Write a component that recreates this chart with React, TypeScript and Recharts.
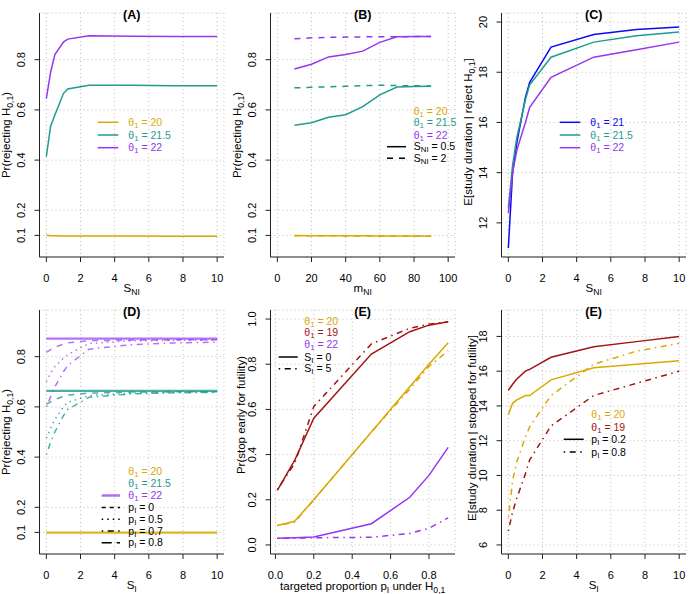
import React from 'react';
import { LineChart, Line, XAxis, YAxis, CartesianGrid } from 'recharts';

const FONT = '"Liberation Sans", Arial, Helvetica, sans-serif';
const W = 231;
const H = 297;
const AXIS = '#222';

const GOLD = '#D9A900';
const TEAL = '#1E9C8C';
const PURPLE = '#9437F0';
const BLUE = '#0A0AF5';
const RED = '#A31515';

// S_NI / S_I grid shared by (A), (C), (D), right (E)
const sValues = [0, 0.25, 0.5, 1, 1.25, 2.5, 5, 7.5, 10];

// (A) Pr(rejecting H0,1) vs S_NI
const aTheta20 = [0.101, 0.099, 0.099, 0.098, 0.098, 0.098, 0.098, 0.097, 0.097];
const aTheta215 = [0.414, 0.535, 0.58, 0.665, 0.683, 0.698, 0.698, 0.696, 0.696];
const aTheta22 = [0.645, 0.75, 0.82, 0.87, 0.882, 0.895, 0.893, 0.892, 0.892];

// (B) Pr(rejecting H0,1) vs m_NI
const mValues = [10, 20, 30, 40, 50, 60, 70, 80, 90];
const bTheta20Solid = [0.1, 0.099, 0.099, 0.099, 0.099, 0.098, 0.098, 0.098, 0.097];
const bTheta20Dashed = [0.099, 0.099, 0.099, 0.098, 0.098, 0.098, 0.098, 0.098, 0.097];
const bTheta215Solid = [0.539, 0.549, 0.571, 0.581, 0.613, 0.66, 0.691, 0.693, 0.694];
const bTheta215Dashed = [0.688, 0.69, 0.692, 0.694, 0.697, 0.698, 0.697, 0.696, 0.695];
const bTheta22Solid = [0.763, 0.782, 0.811, 0.821, 0.834, 0.869, 0.891, 0.892, 0.892];
const bTheta22Dashed = [0.883, 0.887, 0.889, 0.89, 0.891, 0.891, 0.891, 0.892, 0.892];

// (C) E[study duration | reject H0,1] vs S_NI
const cTheta21 = [11.0, 14.0, 15.2, 17.0, 17.6, 19.0, 19.5, 19.7, 19.8];
const cTheta215 = [12.6, 14.3, 15.4, 16.9, 17.5, 18.6, 19.2, 19.45, 19.6];
const cTheta22 = [12.4, 14.0, 14.9, 16.0, 16.6, 17.8, 18.6, 18.9, 19.2];

// (D) Pr(rejecting H0,1) vs S_I
const dTheta20 = [0.099, 0.099, 0.099, 0.099, 0.099, 0.099, 0.099, 0.099, 0.099];
const dTheta215Flat = [0.664, 0.664, 0.664, 0.664, 0.664, 0.664, 0.664, 0.664, 0.664];
const dTheta215Dash = [0.61, 0.62, 0.63, 0.642, 0.647, 0.655, 0.659, 0.66, 0.66];
const dTheta215Dot = [0.475, 0.515, 0.55, 0.6, 0.618, 0.645, 0.655, 0.658, 0.66];
const dTheta215DotDash = [0.41, 0.46, 0.5, 0.565, 0.59, 0.638, 0.652, 0.656, 0.658];
const dTheta22Flat = [0.872, 0.872, 0.872, 0.872, 0.872, 0.872, 0.872, 0.872, 0.872];
const dTheta22Dash = [0.817, 0.828, 0.838, 0.85, 0.855, 0.864, 0.866, 0.867, 0.867];
const dTheta22Dot = [0.7, 0.735, 0.76, 0.795, 0.808, 0.853, 0.863, 0.865, 0.866];
const dTheta22DotDash = [0.6, 0.64, 0.68, 0.74, 0.765, 0.83, 0.848, 0.855, 0.858];

// (E) Pr(stop early for futility) vs p_I
const pValues = [0.01, 0.1, 0.2, 0.5, 0.7, 0.8, 0.9];
const eTheta20S0 = [0.086, 0.105, 0.2, 0.5, 0.7, 0.8, 0.895];
const eTheta20S5 = [0.086, 0.1, 0.2, 0.5, 0.69, 0.79, 0.86];
const eTheta19S0 = [0.242, 0.374, 0.561, 0.845, 0.944, 0.973, 0.988];
const eTheta19S5 = [0.245, 0.36, 0.613, 0.89, 0.959, 0.977, 0.988];
const eTheta22S0 = [0.03, 0.032, 0.035, 0.094, 0.211, 0.308, 0.432];
const eTheta22S5 = [0.03, 0.03, 0.032, 0.034, 0.051, 0.074, 0.12];

// (E, right) E[study duration | stopped for futility] vs S_I
const fTheta20P02 = [13.5, 14.15, 14.35, 14.6, 14.6, 15.5, 16.2, 16.4, 16.6];
const fTheta20P08 = [7.6, 9.7, 10.8, 12.2, 12.8, 14.6, 16.4, 17.15, 17.6];
const fTheta19P02 = [14.9, 15.25, 15.55, 16.0, 16.1, 16.8, 17.4, 17.7, 18.0];
const fTheta19P08 = [6.8, 7.9, 8.7, 10.1, 10.9, 12.85, 14.6, 15.3, 16.0];

// tick labels
const sTicks = [0, 2, 4, 6, 8, 10];
const mTicks = [0, 20, 40, 60, 80, 100];
const pTicks = [0, 0.2, 0.4, 0.6, 0.8];
const prTicks = [0.1, 0.2, 0.4, 0.6, 0.8];
const durTicksC = [12, 14, 16, 18, 20];
const stopTicks = [0, 0.2, 0.4, 0.6, 0.8, 1.0];
const durTicksF = [6, 8, 10, 12, 14, 16, 18];

const DASH = '6 6';
const DOT = '1.5 4';
const DOTDASH = '1.5 4.5 6 4.5';
const LONGDASH = '10 5';

type Series = { key: string; color: string; dash?: string; width?: number; opacity?: number };

function table(xs: number[], cols: Record<string, number[]>) {
  return xs.map((x, i) => {
    const row: Record<string, number> = { x };
    Object.keys(cols).forEach((k) => (row[k] = cols[k][i]));
    return row;
  });
}

const xTick = (digits: number) => (p: any) => (
  <text x={p.x} y={281.5} textAnchor="middle" fontSize={11} fontFamily={FONT} fill="#000">
    {Number(p.payload.value).toFixed(digits)}
  </text>
);

const yTick = (digits: number) => (p: any) => (
  <text
    transform={`translate(25,${p.y}) rotate(-90)`}
    textAnchor="middle"
    fontSize={11}
    fontFamily={FONT}
    fill="#000"
  >
    {Number(p.payload.value).toFixed(digits)}
  </text>
);

function sub(base: string, s: string, rest = '', shift = 3) {
  return [
    <tspan key="b">{base}</tspan>,
    <tspan key="s" fontSize="0.75em" dy={shift}>{s}</tspan>,
    <tspan key="r" dy={-shift}>{rest}</tspan>,
  ];
}

// legend label: theta / p / S with a small subscript
const lab = (base: string, s: string, rest: string) => sub(base, s, rest, 2.2);

function Row(props: {
  y: number;
  tx: number;
  x0?: number;
  x1?: number;
  color: string;
  lineColor?: string;
  dash?: string;
  lw?: number;
  children: React.ReactNode;
}) {
  const { y, tx, x0, x1, color, lineColor, dash, lw, children } = props;
  return (
    <g>
      {x0 !== undefined && x1 !== undefined && (
        <line x1={x0} x2={x1} y1={y} y2={y} stroke={lineColor ?? color} strokeWidth={lw ?? 1.5} strokeDasharray={dash} />
      )}
      <text x={tx} y={y + 3.5} fontSize={10.5} fill={color}>
        {children}
      </text>
    </g>
  );
}

function Panel(props: {
  left: number;
  top: number;
  data: Record<string, number>[];
  xDomain: [number, number];
  xTicks: number[];
  xDigits: number;
  yDomain: [number, number];
  yTicks: number[];
  yDigits: number;
  series: Series[];
  children?: React.ReactNode;
}) {
  const { left, top, data, xDomain, xTicks, xDigits, yDomain, yTicks, yDigits, series, children } = props;
  return (
    <div style={{ position: 'absolute', left, top, width: W, height: H }}>
      <LineChart width={W} height={H} data={data} margin={{ top: 13, right: 7, bottom: 0, left: 0 }}>
        <CartesianGrid stroke="#bdbdbd" strokeDasharray="1 3" />
        <XAxis
          type="number"
          dataKey="x"
          domain={xDomain}
          ticks={xTicks}
          interval={0}
          height={40}
          tickSize={5}
          allowDataOverflow
          axisLine={{ stroke: AXIS }}
          tickLine={{ stroke: AXIS }}
          tick={xTick(xDigits)}
        />
        <YAxis
          type="number"
          domain={yDomain}
          ticks={yTicks}
          interval={0}
          width={39.5}
          tickSize={5}
          allowDataOverflow
          axisLine={{ stroke: AXIS }}
          tickLine={{ stroke: AXIS }}
          tick={yTick(yDigits)}
        />
        {series.map((s) => (
          <Line
            key={s.key}
            type="linear"
            dataKey={s.key}
            stroke={s.color}
            strokeWidth={s.width ?? 1.5}
            strokeDasharray={s.dash}
            strokeOpacity={s.opacity ?? 1}
            dot={false}
            activeDot={false}
            isAnimationActive={false}
          />
        ))}
      </LineChart>
      <svg
        width={W}
        height={H}
        fontFamily={FONT}
        style={{ position: 'absolute', left: 0, top: 0, pointerEvents: 'none' }}
      >
        {children}
      </svg>
    </div>
  );
}

const Title = ({ t }: { t: string }) => (
  <text x={131.7} y={18.5} textAnchor="middle" fontWeight="bold" fontSize={12.5}>
    {t}
  </text>
);

const YTitle = ({ x, y, children }: { x: number; y: number; children: React.ReactNode }) => (
  <text transform={`translate(${x},${y}) rotate(-90)`} textAnchor="middle" fontSize={11.5}>
    {children}
  </text>
);

const XTitle = ({ y = 291.5, children }: { y?: number; children: React.ReactNode }) => (
  <text x={131.7} y={y} textAnchor="middle" fontSize={11.5}>
    {children}
  </text>
);

export default function App() {
  const dataA = table(sValues, { t20: aTheta20, t215: aTheta215, t22: aTheta22 });
  const dataB = table(mValues, {
    t20s: bTheta20Solid,
    t20d: bTheta20Dashed,
    t215s: bTheta215Solid,
    t215d: bTheta215Dashed,
    t22s: bTheta22Solid,
    t22d: bTheta22Dashed,
  });
  const dataC = table(sValues, { t21: cTheta21, t215: cTheta215, t22: cTheta22 });
  const dataD = table(sValues, {
    t20: dTheta20,
    t215f: dTheta215Flat,
    t215a: dTheta215Dash,
    t215b: dTheta215Dot,
    t215c: dTheta215DotDash,
    t22f: dTheta22Flat,
    t22a: dTheta22Dash,
    t22b: dTheta22Dot,
    t22c: dTheta22DotDash,
  });
  const dataE = table(pValues, {
    t20s0: eTheta20S0,
    t20s5: eTheta20S5,
    t19s0: eTheta19S0,
    t19s5: eTheta19S5,
    t22s0: eTheta22S0,
    t22s5: eTheta22S5,
  });
  const dataF = table(sValues, {
    t20a: fTheta20P02,
    t20b: fTheta20P08,
    t19a: fTheta19P02,
    t19b: fTheta19P08,
  });

  const prDomain: [number, number] = [0.014, 0.986];
  const sDomain: [number, number] = [-0.4, 10.4];

  return (
    <div style={{ position: 'relative', width: 693, height: 594, background: '#fff', fontFamily: FONT }}>
      <style>{'body{margin:0}'}</style>

      {/* (A) */}
      <Panel
        left={0}
        top={0}
        data={dataA}
        xDomain={sDomain}
        xTicks={sTicks}
        xDigits={0}
        yDomain={prDomain}
        yTicks={prTicks}
        yDigits={1}
        series={[
          { key: 't20', color: GOLD },
          { key: 't215', color: TEAL },
          { key: 't22', color: PURPLE },
        ]}
      >
        <Title t="(A)" />
        <YTitle x={9.5} y={135}>{sub('Pr(rejecting H', '0,1', ')')}</YTitle>
        <XTitle>{sub('S', 'NI')}</XTitle>
        <Row y={122.3} tx={128.3} x0={97.7} x1={118.3} color={GOLD}>{lab('θ', '1', ' = 20')}</Row>
        <Row y={135} tx={128.3} x0={97.7} x1={118.3} color={TEAL}>{lab('θ', '1', ' = 21.5')}</Row>
        <Row y={147.7} tx={128.3} x0={97.7} x1={118.3} color={PURPLE}>{lab('θ', '1', ' = 22')}</Row>
      </Panel>

      {/* (B) */}
      <Panel
        left={231}
        top={0}
        data={dataB}
        xDomain={[-4, 104]}
        xTicks={mTicks}
        xDigits={0}
        yDomain={prDomain}
        yTicks={prTicks}
        yDigits={1}
        series={[
          { key: 't20d', color: GOLD, dash: DASH },
          { key: 't20s', color: GOLD },
          { key: 't215d', color: TEAL, dash: DASH },
          { key: 't215s', color: TEAL },
          { key: 't22d', color: PURPLE, dash: DASH },
          { key: 't22s', color: PURPLE },
        ]}
      >
        <Title t="(B)" />
        <YTitle x={9.5} y={135}>{sub('Pr(rejecting H', '0,1', ')')}</YTitle>
        <XTitle>{sub('m', 'NI')}</XTitle>
        <Row y={111} tx={182.7} color={GOLD}>{lab('θ', '1', ' = 20')}</Row>
        <Row y={122.7} tx={182.7} color={TEAL}>{lab('θ', '1', ' = 21.5')}</Row>
        <Row y={135} tx={182.7} color={PURPLE}>{lab('θ', '1', ' = 22')}</Row>
        <Row y={146.7} tx={182.7} x0={156} x1={175} color="#000">{lab('S', 'NI', ' = 0.5')}</Row>
        <Row y={158.3} tx={182.7} x0={156} x1={175} color="#000" dash={DASH}>{lab('S', 'NI', ' = 2')}</Row>
      </Panel>

      {/* (C) */}
      <Panel
        left={462}
        top={0}
        data={dataC}
        xDomain={sDomain}
        xTicks={sTicks}
        xDigits={0}
        yDomain={[10.64, 20.36]}
        yTicks={durTicksC}
        yDigits={0}
        series={[
          { key: 't21', color: BLUE },
          { key: 't215', color: TEAL },
          { key: 't22', color: PURPLE },
        ]}
      >
        <Title t="(C)" />
        <YTitle x={9.5} y={132}>{sub('E[study duration | reject H', '0,1', ']')}</YTitle>
        <XTitle>{sub('S', 'NI')}</XTitle>
        <Row y={122.3} tx={128.3} x0={97.7} x1={118.3} color={BLUE}>{lab('θ', '1', ' = 21')}</Row>
        <Row y={135} tx={128.3} x0={97.7} x1={118.3} color={TEAL}>{lab('θ', '1', ' = 21.5')}</Row>
        <Row y={147.7} tx={128.3} x0={97.7} x1={118.3} color={PURPLE}>{lab('θ', '1', ' = 22')}</Row>
      </Panel>

      {/* (D) */}
      <Panel
        left={0}
        top={297}
        data={dataD}
        xDomain={sDomain}
        xTicks={sTicks}
        xDigits={0}
        yDomain={prDomain}
        yTicks={prTicks}
        yDigits={1}
        series={[
          { key: 't20', color: GOLD, width: 2.2, opacity: 0.85 },
          { key: 't215f', color: TEAL, width: 2.2, opacity: 0.8 },
          { key: 't215a', color: TEAL, dash: DASH, opacity: 0.8 },
          { key: 't215b', color: TEAL, dash: DOT, opacity: 0.8 },
          { key: 't215c', color: TEAL, dash: DOTDASH, opacity: 0.8 },
          { key: 't22f', color: PURPLE, width: 2.2, opacity: 0.7 },
          { key: 't22a', color: PURPLE, dash: DASH, opacity: 0.7 },
          { key: 't22b', color: PURPLE, dash: DOT, opacity: 0.7 },
          { key: 't22c', color: PURPLE, dash: DOTDASH, opacity: 0.7 },
        ]}
      >
        <Title t="(D)" />
        <YTitle x={9.5} y={135}>{sub('Pr(rejecting H', '0,1', ')')}</YTitle>
        <XTitle>{sub('S', 'I')}</XTitle>
        <Row y={174.7} tx={128.3} color={GOLD}>{lab('θ', '1', ' = 20')}</Row>
        <Row y={186.3} tx={128.3} color={TEAL}>{lab('θ', '1', ' = 21.5')}</Row>
        <Row y={198.5} tx={128.3} x0={101.7} x1={120} lw={2.5} color={PURPLE} lineColor="#B070F2">{lab('θ', '1', ' = 22')}</Row>
        <Row y={210.5} tx={128.3} x0={101.7} x1={120} color="#000" dash="4 4">{lab('p', 'I', ' = 0')}</Row>
        <Row y={222.3} tx={128.3} x0={101.7} x1={120} color="#000" dash={DOT}>{lab('p', 'I', ' = 0.5')}</Row>
        <Row y={234} tx={128.3} x0={101.7} x1={120} color="#000" dash={DOTDASH}>{lab('p', 'I', ' = 0.7')}</Row>
        <Row y={245.7} tx={128.3} x0={101.7} x1={120} color="#000" dash={LONGDASH}>{lab('p', 'I', ' = 0.8')}</Row>
      </Panel>

      {/* (E) middle */}
      <Panel
        left={231}
        top={297}
        data={dataE}
        xDomain={[-0.0256, 0.9356]}
        xTicks={pTicks}
        xDigits={1}
        yDomain={[-0.04, 1.04]}
        yTicks={stopTicks}
        yDigits={1}
        series={[
          { key: 't20s5', color: GOLD, dash: DOTDASH },
          { key: 't20s0', color: GOLD },
          { key: 't19s5', color: RED, dash: DOTDASH },
          { key: 't19s0', color: RED },
          { key: 't22s5', color: PURPLE, dash: DOTDASH },
          { key: 't22s0', color: PURPLE },
        ]}
      >
        <Title t="(E)" />
        <YTitle x={13.5} y={118}>Pr(stop early for futility)</YTitle>
        <XTitle y={292.5}>
          {sub('targeted proportion p', 'I', ' under H')}
          <tspan fontSize="0.75em" dy={3}>0,1</tspan>
        </XTitle>
        <Row y={24} tx={73.3} color={GOLD}>{lab('θ', '1', ' = 20')}</Row>
        <Row y={35.7} tx={73.3} color={RED}>{lab('θ', '1', ' = 19')}</Row>
        <Row y={47.7} tx={73.3} color={PURPLE}>{lab('θ', '1', ' = 22')}</Row>
        <Row y={60} tx={73.3} x0={47.7} x1={66.7} color="#000">{lab('S', 'I', ' = 0')}</Row>
        <Row y={71.7} tx={73.3} x0={47.7} x1={66.7} color="#000" dash={DOTDASH}>{lab('S', 'I', ' = 5')}</Row>
      </Panel>

      {/* (E) right */}
      <Panel
        left={462}
        top={297}
        data={dataF}
        xDomain={sDomain}
        xTicks={sTicks}
        xDigits={0}
        yDomain={[5.48, 19.52]}
        yTicks={durTicksF}
        yDigits={0}
        series={[
          { key: 't20b', color: GOLD, dash: DOTDASH },
          { key: 't20a', color: GOLD },
          { key: 't19b', color: RED, dash: DOTDASH },
          { key: 't19a', color: RED },
        ]}
      >
        <Title t="(E)" />
        <YTitle x={13.5} y={131}>E[study duration | stopped for futility]</YTitle>
        <XTitle>{sub('S', 'I')}</XTitle>
        <Row y={117.7} tx={129.3} color={GOLD}>{lab('θ', '1', ' = 20')}</Row>
        <Row y={130} tx={129.3} color={RED}>{lab('θ', '1', ' = 19')}</Row>
        <Row y={142.3} tx={129.3} x0={101.7} x1={121.7} color="#000">{lab('p', 'I', ' = 0.2')}</Row>
        <Row y={155} tx={129.3} x0={101.7} x1={121.7} color="#000" dash={DOTDASH}>{lab('p', 'I', ' = 0.8')}</Row>
      </Panel>
    </div>
  );
}
